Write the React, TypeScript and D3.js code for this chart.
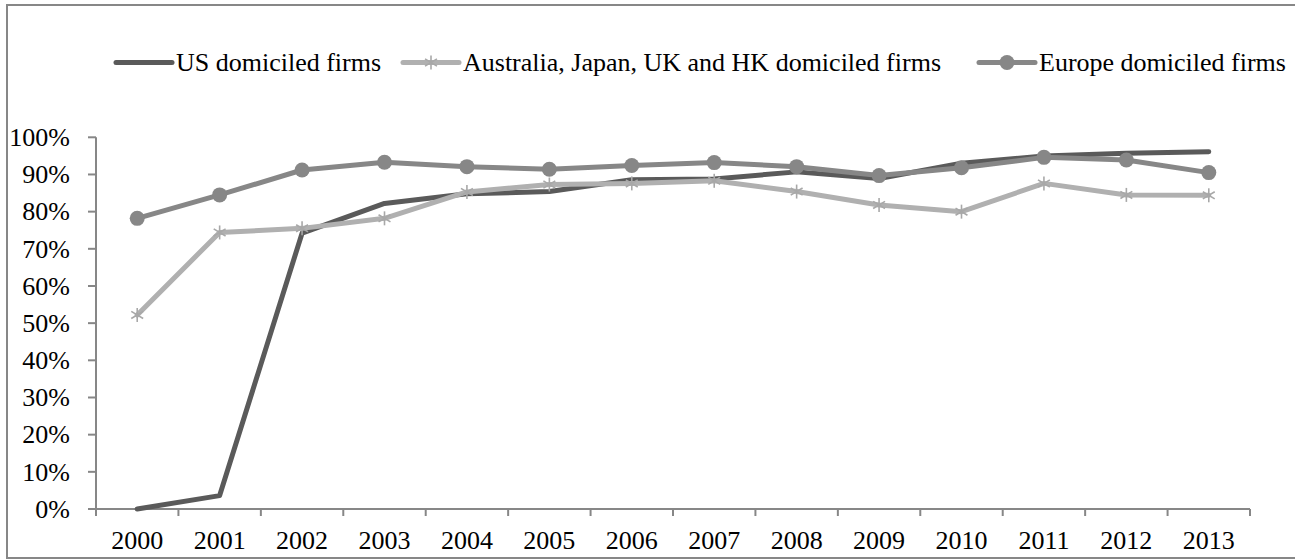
import React from "react";
import * as d3 from "d3";

const years = ["2000","2001","2002","2003","2004","2005","2006","2007","2008","2009","2010","2011","2012","2013"];
const usValues = [0.0, 0.036, 0.742, 0.822, 0.848, 0.854, 0.886, 0.888, 0.907, 0.889, 0.930, 0.950, 0.957, 0.961];
const auValues = [0.522, 0.744, 0.755, 0.782, 0.853, 0.873, 0.876, 0.883, 0.854, 0.818, 0.800, 0.876, 0.845, 0.844];
const euValues = [0.782, 0.845, 0.912, 0.933, 0.921, 0.914, 0.924, 0.932, 0.921, 0.897, 0.918, 0.946, 0.939, 0.905];
const yTicks = [0, 0.1, 0.2, 0.3, 0.4, 0.5, 0.6, 0.7, 0.8, 0.9, 1.0];
const seriesNames = ["US domiciled firms", "Australia, Japan, UK and HK domiciled firms", "Europe domiciled firms"];

const W = 1295, H = 560;
const plot = { left: 96, right: 1250, top: 137.3, bottom: 509 };
const FONT = "'Liberation Serif', 'Times New Roman', Times, serif";
const FS = 26;
const AXIS = "#878787";
const colors = ["#5a5a5a", "#b0b0b0", "#878787"];
const markerColors = ["#5a5a5a", "#a8a8a8", "#878787"];

function Txt({ x, y, anchor, children }: { x: number; y: number; anchor: string; children: React.ReactNode }) {
  return (
    <text x={x} y={y} textAnchor={anchor} fontFamily={FONT} fontSize={FS} fill="#000">
      {children}
    </text>
  );
}

function Star({ x, y, c }: { x: number; y: number; c: string }) {
  const r = 7;
  const d = r * 0.85;
  return (
    <g stroke={c} strokeWidth={1.6}>
      <line x1={x} y1={y - r} x2={x} y2={y + r} />
      <line x1={x - d} y1={y - d * 0.6} x2={x + d} y2={y + d * 0.6} />
      <line x1={x - d} y1={y + d * 0.6} x2={x + d} y2={y - d * 0.6} />
    </g>
  );
}

export default function App() {
  const xBand = d3.scaleBand<string>().domain(years).range([plot.left, plot.right]).padding(0);
  const xc = (yr: string) => (xBand(yr) as number) + xBand.bandwidth() / 2;
  const y = d3.scaleLinear().domain([0, 1]).range([plot.bottom, plot.top]);
  const line = d3.line<number>().x((_, i) => xc(years[i])).y((v) => y(v));
  const data = [usValues, auValues, euValues];
  const boundaries = years.map((yr) => xBand(yr) as number).concat([plot.right]);
  const legendX = [116, 403, 979];
  const legendY = 62.5;

  return (
    <svg width={W} height={H} style={{ position: "absolute", left: 0, top: 0, background: "#fff" }}>
      <rect x={0} y={0} width={W} height={H} fill="#fff" />
      <rect x={7} y={5} width={W + 10} height={553} fill="none" stroke={AXIS} strokeWidth={2} />

      {/* y axis */}
      <line x1={plot.left} y1={y(1)} x2={plot.left} y2={plot.bottom} stroke={AXIS} strokeWidth={2} />
      {yTicks.map((t) => (
        <g key={t}>
          <line x1={plot.left - 8} x2={plot.left} y1={y(t)} y2={y(t)} stroke={AXIS} strokeWidth={2} />
          <Txt x={70} y={y(t) + 8.8} anchor="end">{d3.format(".0%")(t)}</Txt>
        </g>
      ))}

      {/* x axis */}
      <line x1={plot.left} y1={plot.bottom} x2={plot.right} y2={plot.bottom} stroke={AXIS} strokeWidth={2} />
      {boundaries.map((b, i) => (
        <line key={i} x1={b} x2={b} y1={plot.bottom} y2={plot.bottom + 7} stroke={AXIS} strokeWidth={2} />
      ))}
      {years.map((yr) => (
        <Txt key={yr} x={xc(yr)} y={548.5} anchor="middle">{yr}</Txt>
      ))}

      {/* series */}
      {data.map((vals, si) => (
        <g key={si}>
          <path d={line(vals) || ""} fill="none" stroke={colors[si]} strokeWidth={5} strokeLinejoin="round" strokeLinecap="round" />
          {si === 1 && vals.map((v, i) => <Star key={i} x={xc(years[i])} y={y(v)} c={markerColors[1]} />)}
          {si === 2 && vals.map((v, i) => <circle key={i} cx={xc(years[i])} cy={y(v)} r={7.5} fill={markerColors[2]} />)}
        </g>
      ))}

      {/* legend */}
      {seriesNames.map((name, si) => {
        const x0 = legendX[si];
        const cx = x0 + 28;
        return (
          <g key={name}>
            <line x1={x0} x2={x0 + 56} y1={legendY} y2={legendY} stroke={colors[si]} strokeWidth={5} strokeLinecap="round" />
            {si === 1 && <Star x={cx} y={legendY} c={markerColors[1]} />}
            {si === 2 && <circle cx={cx} cy={legendY} r={7.5} fill={markerColors[2]} />}
            <Txt x={x0 + 60} y={legendY + 8.8} anchor="start">{name}</Txt>
          </g>
        );
      })}
    </svg>
  );
}
